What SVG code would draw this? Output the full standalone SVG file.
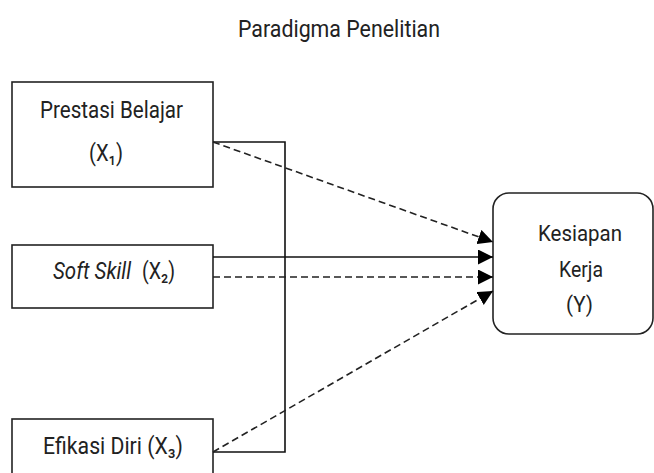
<svg xmlns="http://www.w3.org/2000/svg" width="654" height="473" viewBox="0 0 654 473">
<style>
text{font-family:Roboto,"Liberation Sans",sans-serif;font-size:24px;fill:#222;}
.box{fill:#fff;stroke:#222;stroke-width:1.6;}
.ln{fill:none;stroke:#111;stroke-width:1.6;}
.dash{fill:none;stroke:#222;stroke-width:1.6;stroke-dasharray:7 4;}
.y{font-size:22px;}
</style>
<defs>
<marker id="ah" viewBox="0 0 10 10" refX="10" refY="5" markerWidth="15" markerHeight="15" markerUnits="userSpaceOnUse" orient="auto">
<path d="M0,0 L10,5 L0,10 Z" fill="#000"/>
</marker>
</defs>
<rect width="654" height="473" fill="#fff"/>
<text x="238" y="37" textLength="202" lengthAdjust="spacingAndGlyphs">Paradigma Penelitian</text>
<g id="x1">
<rect class="box" x="12" y="82" width="201" height="105"/>
<text x="40" y="118" textLength="143" lengthAdjust="spacingAndGlyphs">Prestasi Belajar</text>
<text x="89" y="161" textLength="34" lengthAdjust="spacingAndGlyphs">(X₁)</text>
</g>
<g id="x2">
<rect class="box" x="12" y="245" width="201" height="63"/>
<text x="53" y="279" font-style="italic" textLength="78" lengthAdjust="spacingAndGlyphs">Soft Skill</text>
<text x="142" y="279" textLength="33" lengthAdjust="spacingAndGlyphs">(X₂)</text>
</g>
<g id="x3">
<rect class="box" x="12" y="419" width="201" height="70"/>
<text x="43" y="454" textLength="140" lengthAdjust="spacingAndGlyphs">Efikasi Diri (X₃)</text>
</g>
<g id="y">
<rect class="box" x="493" y="193" width="160" height="141" rx="16"/>
<text class="y" x="538" y="241" textLength="84" lengthAdjust="spacingAndGlyphs">Kesiapan</text>
<text class="y" x="559" y="277" textLength="44" lengthAdjust="spacingAndGlyphs">Kerja</text>
<text class="y" x="566" y="312" textLength="27" lengthAdjust="spacingAndGlyphs">(Y)</text>
</g>
<g id="connectors">
<polyline class="ln" points="213,142 285,142 285,452 213,452"/>
<line class="ln" x1="213" y1="257" x2="493" y2="257" marker-end="url(#ah)"/>
<line class="dash" x1="213" y1="277" x2="493" y2="277" marker-end="url(#ah)"/>
<line class="dash" x1="213" y1="142" x2="493" y2="242" marker-end="url(#ah)"/>
<line class="dash" x1="213" y1="452" x2="493" y2="291" marker-end="url(#ah)"/>
</g>
</svg>
